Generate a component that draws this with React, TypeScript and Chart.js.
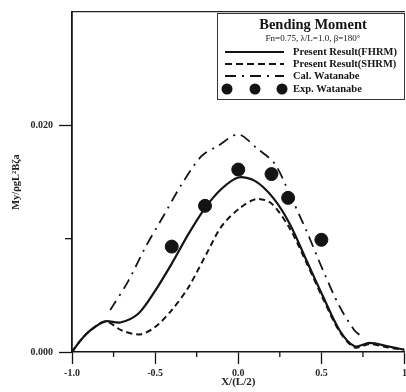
import React, { useEffect, useRef } from 'react';
import { Chart, registerables } from 'chart.js';

Chart.register(...registerables);

// ---- Data ----
const fhrmX = [-1.0, -0.95, -0.89, -0.8, -0.71, -0.6, -0.5, -0.4, -0.3, -0.2, -0.1, 0.0, 0.1, 0.21, 0.31, 0.41, 0.51, 0.61, 0.7, 0.79, 0.9, 1.0];
const fhrmY = [0.0, 0.001, 0.0019, 0.0027, 0.0026, 0.0034, 0.0054, 0.0078, 0.0104, 0.0127, 0.0144, 0.0154, 0.0151, 0.0136, 0.0113, 0.0081, 0.0049, 0.0019, 0.0005, 0.0008, 0.0005, 0.0002];

const shrmX = [-1.0, -0.95, -0.89, -0.8, -0.7, -0.59, -0.5, -0.4, -0.3, -0.19, -0.1, 0.01, 0.11, 0.2, 0.31, 0.41, 0.51, 0.61, 0.7, 0.79, 0.9, 1.0];
const shrmY = [0.0, 0.001, 0.0019, 0.0027, 0.0019, 0.00155, 0.0022, 0.0037, 0.0057, 0.0087, 0.0111, 0.0127, 0.0135, 0.0131, 0.0109, 0.0079, 0.0047, 0.0018, 0.0004, 0.0007, 0.0004, 0.0002];

const calX = [-0.77, -0.66, -0.56, -0.45, -0.34, -0.22, -0.12, 0.0, 0.11, 0.22, 0.31, 0.41, 0.51, 0.61, 0.7, 0.75];
const calY = [0.0037, 0.0063, 0.0092, 0.012, 0.0148, 0.0173, 0.0182, 0.0192, 0.018, 0.0166, 0.0139, 0.0107, 0.0072, 0.004, 0.0019, 0.0013];

const expX = [-0.4, -0.2, 0.0, 0.2, 0.3, 0.5];
const expY = [0.0093, 0.0129, 0.0161, 0.0157, 0.0136, 0.0099];

const xMajorTicks = [-1, -0.5, 0, 0.5, 1];
const xTickLabels = ['-1.0', '-0.5', '0.0', '0.5', '1'];
const xMinorTicks = [-0.75, -0.25, 0.25, 0.75];
const yMajorTicks = [0, 0.02];
const yTickLabels = ['0.000', '0.020'];
const yMinorTicks = [0.01];

const seriesNames = ['Present Result(FHRM)', 'Present Result(SHRM)', 'Cal. Watanabe', 'Exp. Watanabe'];
const legendTitle = 'Bending Moment';
const legendSubtitle = 'Fn=0.75, λ/L=1.0, β=180°';
const xTitle = 'X/(L/2)';
const yTitle = 'My/ρgL²Bζa';

const INK = '#141414';
const SERIF = "'Liberation Serif', 'DejaVu Serif', serif";

const near = (a: number, b: number) => Math.abs(a - b) < 1e-9;
const pts = (xs: number[], ys: number[]) => xs.map((x, i) => ({ x, y: ys[i] }));

const minorTickPlugin = {
  id: 'minorTicks',
  afterDraw(chart: any) {
    const { ctx, scales } = chart;
    const x = scales.x;
    const y = scales.y;
    ctx.save();
    ctx.strokeStyle = INK;
    ctx.lineWidth = 1.3;
    xMinorTicks.forEach((v) => {
      const px = x.getPixelForValue(v);
      ctx.beginPath();
      ctx.moveTo(px, x.top);
      ctx.lineTo(px, x.top + 5);
      ctx.stroke();
    });
    yMinorTicks.forEach((v) => {
      const py = y.getPixelForValue(v);
      ctx.beginPath();
      ctx.moveTo(y.right - 7, py);
      ctx.lineTo(y.right, py);
      ctx.stroke();
    });
    ctx.restore();
  },
};

const legendPlugin = {
  id: 'boxLegend',
  afterDraw(chart: any) {
    const { ctx } = chart;
    const L = 217, T = 13, R = 405, B = 100;
    ctx.save();
    ctx.fillStyle = '#fff';
    ctx.fillRect(L, T, R - L, B - T);
    ctx.strokeStyle = '#333';
    ctx.lineWidth = 1;
    ctx.strokeRect(L + 0.5, T + 0.5, R - L - 1, B - T - 1);
    ctx.fillStyle = INK;
    ctx.textAlign = 'center';
    ctx.textBaseline = 'middle';
    ctx.font = `bold 14.5px ${SERIF}`;
    ctx.fillText(legendTitle, 313, 25);
    ctx.font = `9px ${SERIF}`;
    ctx.fillText(legendSubtitle, 313, 39);
    const rows = [52, 64, 76, 89];
    const sx0 = 225, sx1 = 284;
    ctx.textAlign = 'left';
    ctx.font = `bold 10.5px ${SERIF}`;
    ctx.strokeStyle = INK;
    const dashes = [[], [7, 4], [11, 6, 2, 6]];
    for (let i = 0; i < 3; i++) {
      ctx.beginPath();
      ctx.setLineDash(dashes[i]);
      ctx.lineWidth = i === 0 ? 2.2 : 2;
      ctx.moveTo(sx0, rows[i]);
      ctx.lineTo(sx1, rows[i]);
      ctx.stroke();
    }
    ctx.setLineDash([]);
    [227, 255, 282].forEach((cx) => {
      ctx.beginPath();
      ctx.arc(cx, rows[3], 5.5, 0, Math.PI * 2);
      ctx.fill();
    });
    seriesNames.forEach((n, i) => ctx.fillText(n, 293, rows[i] + 0.5));
    ctx.restore();
  },
};

export default function App() {
  const ref = useRef<HTMLCanvasElement>(null);
  useEffect(() => {
    if (!ref.current) return;
    Chart.defaults.font.family = SERIF;
    const tickFont = { family: SERIF, size: 10, weight: 'bold' as const };
    const chart = new Chart(ref.current, {
      type: 'scatter',
      data: {
        datasets: [
          {
            label: seriesNames[0],
            data: pts(fhrmX, fhrmY),
            showLine: true,
            borderColor: INK,
            borderWidth: 2.2,
            pointRadius: 0,
            tension: 0.3,
          },
          {
            label: seriesNames[1],
            data: pts(shrmX, shrmY),
            showLine: true,
            borderColor: INK,
            borderWidth: 2,
            borderDash: [6, 4],
            pointRadius: 0,
            tension: 0.3,
          },
          {
            label: seriesNames[2],
            data: pts(calX, calY),
            showLine: true,
            borderColor: INK,
            borderWidth: 1.8,
            borderDash: [11, 6, 2, 6],
            pointRadius: 0,
            tension: 0.3,
          },
          {
            label: seriesNames[3],
            data: pts(expX, expY),
            showLine: false,
            backgroundColor: INK,
            borderColor: INK,
            pointRadius: 6.5,
          },
        ],
      },
      options: {
        responsive: false,
        animation: false,
        events: [],
        layout: { padding: { left: 0, right: 0, top: 10, bottom: 0 } },
        plugins: { legend: { display: false }, tooltip: { enabled: false } },
        scales: {
          x: {
            type: 'linear',
            position: 'bottom',
            min: -1,
            max: 1,
            afterBuildTicks: (s: any) => {
              s.ticks = [...xMajorTicks, ...xMinorTicks].sort((a, b) => a - b).map((v) => ({ value: v }));
            },
            afterFit: (s: any) => {
              s.height = 40;
            },
            ticks: {
              autoSkip: false,
              maxRotation: 0,
              padding: 3,
              color: '#2a2a2a',
              font: tickFont,
              callback: (v: any) => {
                const i = xMajorTicks.findIndex((t) => near(t, Number(v)));
                return i >= 0 ? xTickLabels[i] : '';
              },
            },
            grid: {
              drawOnChartArea: false,
              drawTicks: true,
              tickLength: 12,
              tickWidth: 1.3,
              tickColor: (c: any) => (xMajorTicks.some((t) => near(t, c.tick?.value)) ? INK : 'rgba(0,0,0,0)'),
            },
            border: { display: true, color: INK, width: 1.5 },
            title: {
              display: true,
              text: xTitle,
              color: '#222',
              font: { family: SERIF, size: 11, weight: 'bold' },
              padding: { top: 0, bottom: 3 },
            },
          },
          x2: {
            type: 'linear',
            position: 'top',
            min: -1,
            max: 1,
            afterFit: (s: any) => {
              s.height = 0;
            },
            ticks: { display: false },
            grid: { display: false, drawTicks: false, tickLength: 0 },
            border: { display: true, color: '#222', width: 1.2 },
          },
          y: {
            type: 'linear',
            min: 0,
            max: 0.03,
            afterBuildTicks: (s: any) => {
              s.ticks = [0, 0.01, 0.02, 0.03].map((v) => ({ value: v }));
            },
            afterFit: (s: any) => {
              s.width = 72;
            },
            ticks: {
              autoSkip: false,
              padding: 6,
              color: '#2a2a2a',
              font: tickFont,
              callback: (v: any) => {
                const i = yMajorTicks.findIndex((t) => near(t, Number(v)));
                return i >= 0 ? yTickLabels[i] : '';
              },
            },
            grid: {
              drawOnChartArea: false,
              drawTicks: true,
              tickLength: 13,
              tickWidth: 1.3,
              tickColor: (c: any) => (yMajorTicks.some((t) => near(t, c.tick?.value)) ? INK : 'rgba(0,0,0,0)'),
            },
            border: { display: true, color: INK, width: 1.8 },
            title: {
              display: true,
              text: yTitle,
              color: '#222',
              font: { family: SERIF, size: 10.5, weight: 'bold' },
              padding: { top: 10, bottom: 0 },
            },
          },
        },
      },
      plugins: [minorTickPlugin, legendPlugin],
    } as any);
    return () => chart.destroy();
  }, []);
  return (
    <div style={{ position: 'fixed', left: 0, top: 0, width: 406, height: 392, overflow: 'hidden', background: '#fff' }}>
      <canvas ref={ref} width={412} height={392} style={{ display: 'block' }} />
    </div>
  );
}
